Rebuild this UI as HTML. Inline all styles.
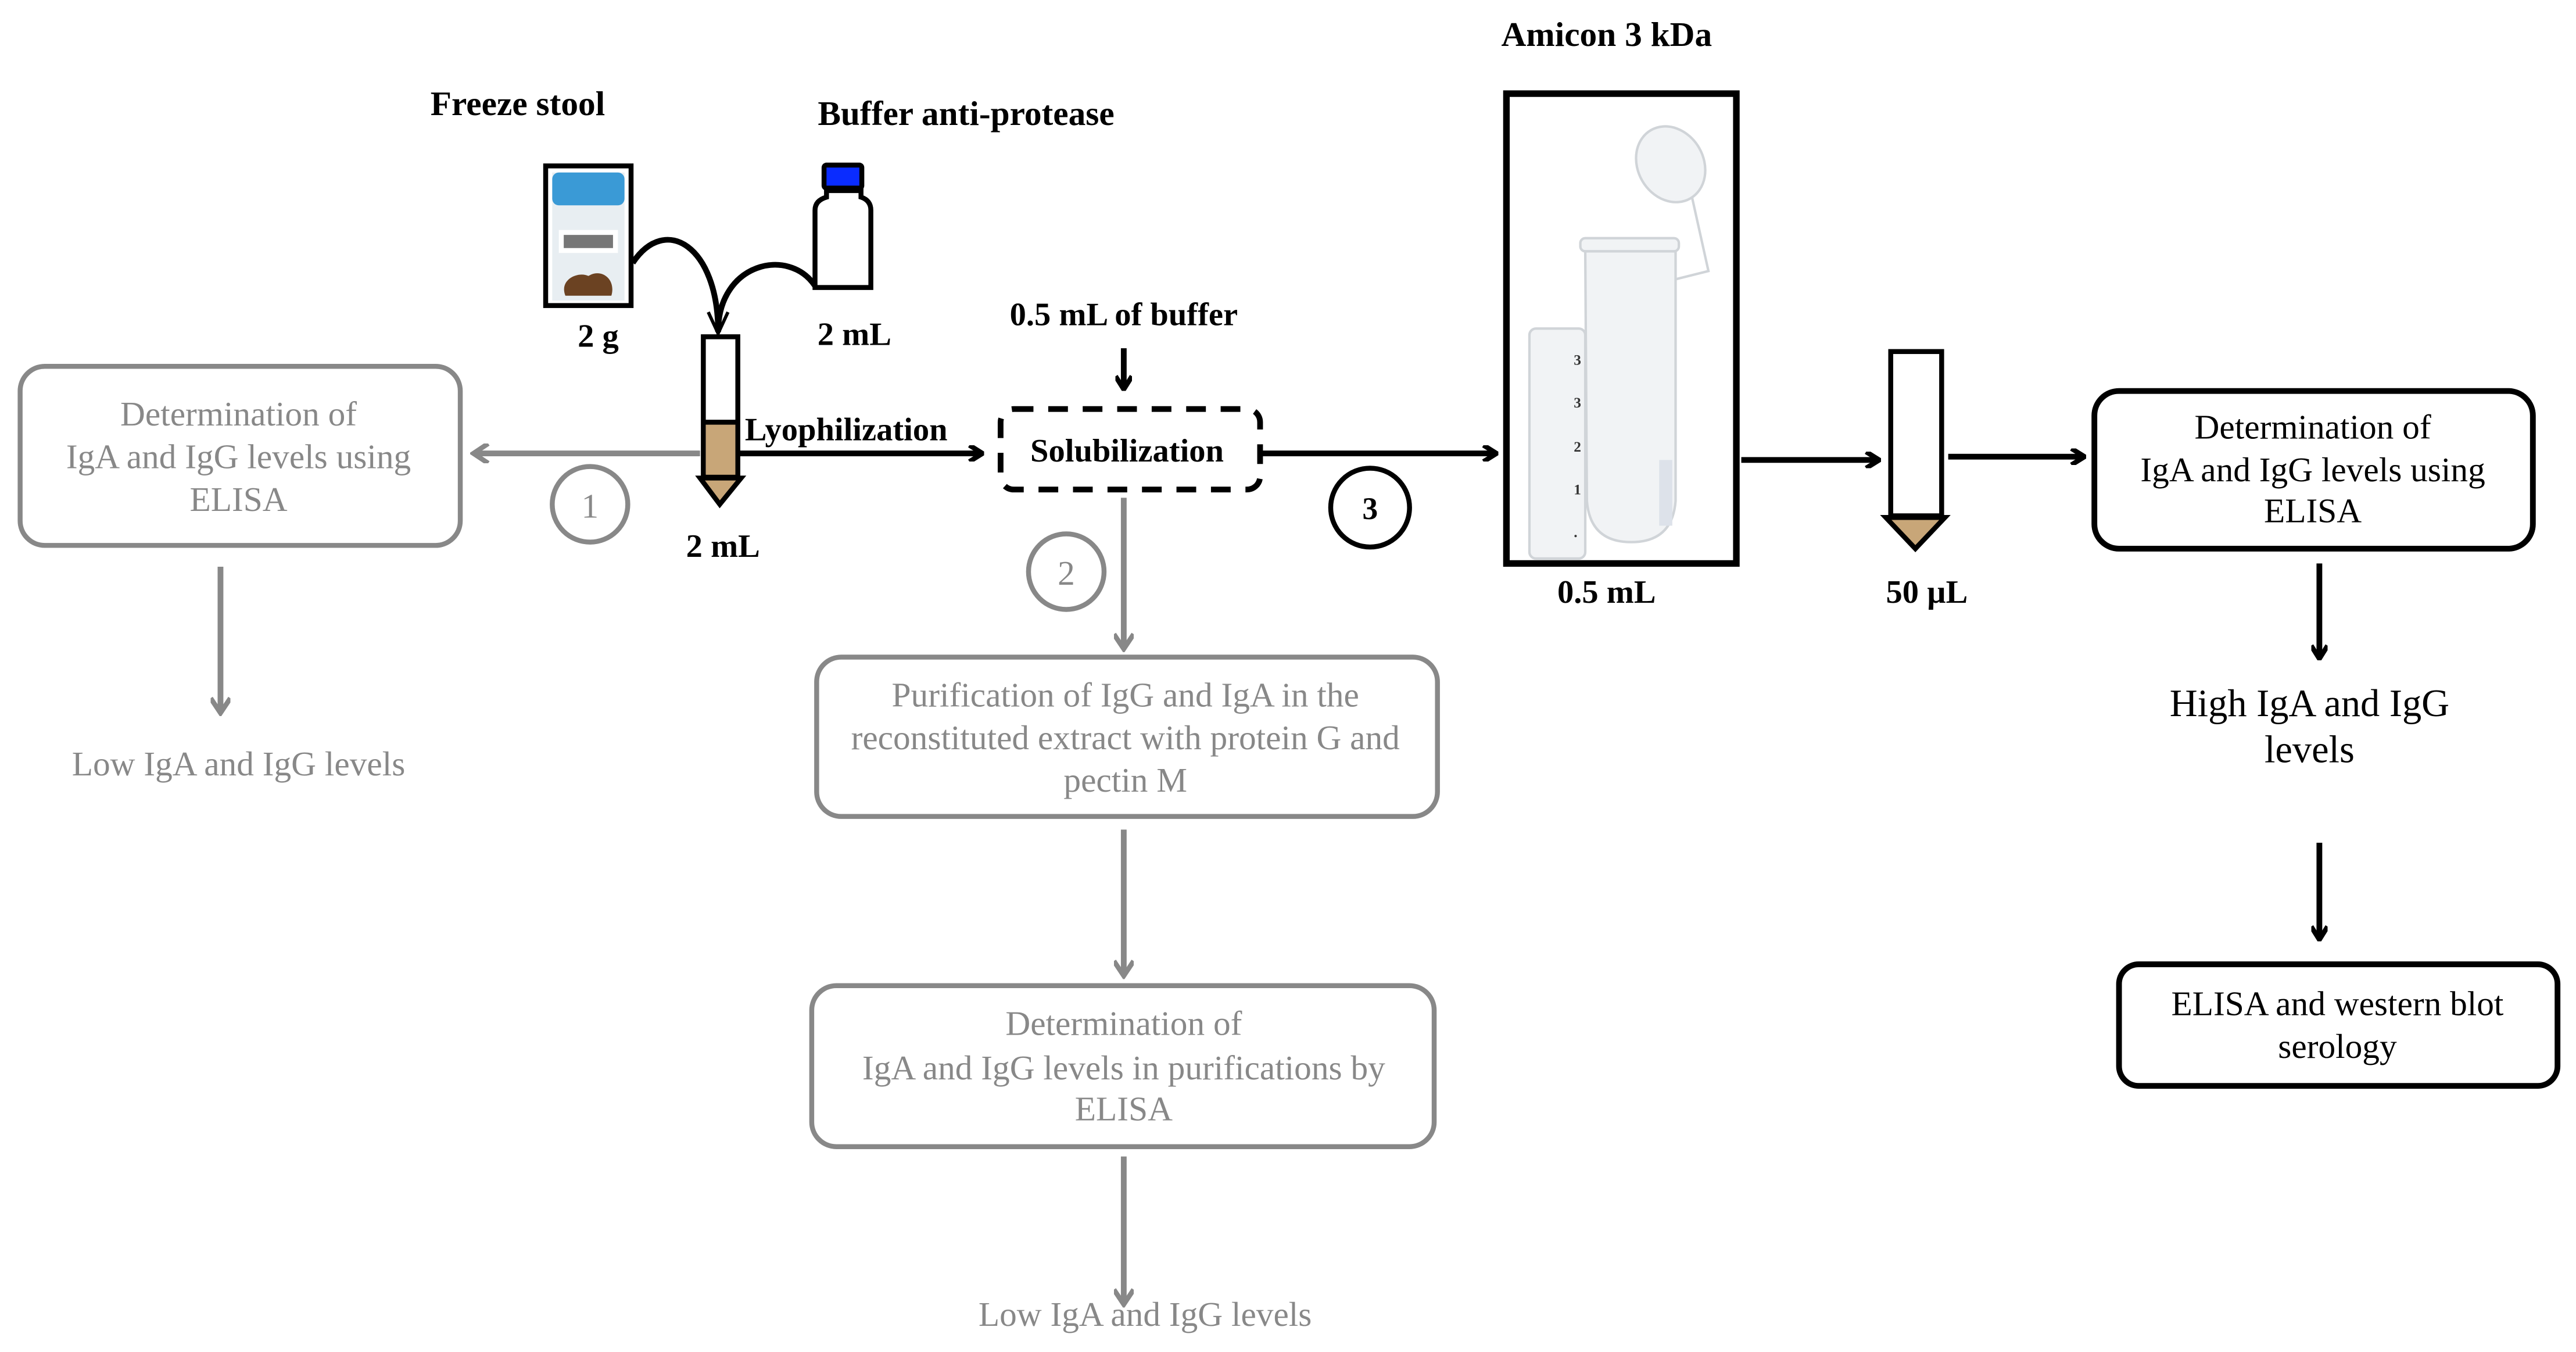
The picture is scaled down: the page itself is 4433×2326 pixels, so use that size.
<!DOCTYPE html>
<html><head><meta charset="utf-8"><style>
html,body{margin:0;padding:0;background:#fff;}
svg{display:block;}
text{font-family:"Liberation Serif","Times New Roman",serif;}
</style></head><body>
<svg width="4433" height="2326" viewBox="0 0 1568 823" xmlns="http://www.w3.org/2000/svg">
<defs>
<marker id="ab" markerWidth="10" markerHeight="10" refX="8" refY="5" orient="auto" markerUnits="userSpaceOnUse"><path d="M1,0 L9,5 L1,10" fill="none" stroke="#000" stroke-width="3"/></marker>
<marker id="ag" markerWidth="12" markerHeight="12" refX="9" refY="6" orient="auto" markerUnits="userSpaceOnUse"><path d="M1,0 L10,6 L1,12" fill="none" stroke="#888" stroke-width="3"/></marker>
</defs>
<rect width="1568" height="823" fill="#fff"/>

<!-- top labels -->
<g font-weight="bold" font-size="21" fill="#000">
<text x="315" y="70" text-anchor="middle">Freeze stool</text>
<text x="588" y="76" text-anchor="middle">Buffer anti-protease</text>
<text x="978" y="28" text-anchor="middle" font-size="21">Amicon 3 kDa</text>
<text x="364" y="211" text-anchor="middle" font-size="20">2 g</text>
<text x="520" y="210" text-anchor="middle" font-size="20">2 mL</text>
<text x="440" y="339" text-anchor="middle" font-size="20">2 mL</text>
<text x="515" y="268" text-anchor="middle" font-size="20">Lyophilization</text>
<text x="684" y="198" text-anchor="middle" font-size="20">0.5 mL of  buffer</text>
<text x="686" y="281" text-anchor="middle" font-size="20">Solubilization</text>
<text x="978" y="367" text-anchor="middle" font-size="20">0.5 mL</text>
<text x="1173" y="367" text-anchor="middle" font-size="20">50 µL</text>
</g>

<!-- stool jar -->
<rect x="332" y="101" width="52" height="85" fill="#fff" stroke="#000" stroke-width="3"/>
<rect x="336" y="105" width="44" height="78" fill="#e8eef2"/>
<rect x="336" y="105" width="44" height="20" rx="4" fill="#3a9ad6"/>
<rect x="340" y="140" width="36" height="14" fill="#fff"/>
<rect x="343" y="143" width="30" height="8" fill="#777"/>
<path d="M344,180 C340,170 352,165 358,168 C366,163 375,170 372,180 Z" fill="#6b4222"/>
<!-- bottle -->
<path d="M496,175 L496,128 Q496,122 503,120 L503,116 L524,116 L524,120 Q530,122 530,128 L530,175 Z" fill="#fff" stroke="#000" stroke-width="3"/>
<rect x="500" y="99" width="26" height="17" rx="3" fill="#000"/>
<rect x="503" y="102" width="20" height="11" fill="#0a2cff"/>
<!-- curves -->
<path d="M385,160 C405,130 437,150 437,202" fill="none" stroke="#000" stroke-width="3.5"/>
<path d="M496,174 C480,150 437,160 437,202" fill="none" stroke="#000" stroke-width="3.5"/>
<path d="M431,190 L437,203 L443,190" fill="none" stroke="#000" stroke-width="2"/>
<!-- tube -->
<rect x="428" y="205" width="21" height="85" fill="#fff" stroke="#000" stroke-width="3"/>
<rect x="429.5" y="258" width="18" height="31" fill="#c8a678"/>
<line x1="428" y1="257" x2="449" y2="257" stroke="#000" stroke-width="3"/>
<path d="M426,291 L451,291 L438,307 Z" fill="#c8a678" stroke="#000" stroke-width="3"/>

<!-- arrows from tube -->
<line x1="450" y1="276" x2="597" y2="276" stroke="#000" stroke-width="3.5" marker-end="url(#ab)"/>
<line x1="426" y1="276" x2="289" y2="276" stroke="#888" stroke-width="3.5" marker-end="url(#ag)"/>
<circle cx="359" cy="307" r="23" fill="#fff" stroke="#888" stroke-width="3"/>
<text x="359" y="315" text-anchor="middle" font-size="21" fill="#888">1</text>

<!-- left gray box -->
<rect x="12" y="223" width="268" height="109" rx="15" fill="#fff" stroke="#888" stroke-width="3"/>
<g font-size="21" fill="#888" text-anchor="middle">
<text x="145" y="259">Determination of</text>
<text x="145" y="285">IgA and IgG levels using</text>
<text x="145" y="311">ELISA</text>
<text x="145" y="472">Low IgA and IgG levels</text>
</g>
<line x1="134" y1="345" x2="134" y2="433" stroke="#888" stroke-width="3.5" marker-end="url(#ag)"/>

<!-- solubilization -->
<line x1="684" y1="212" x2="684" y2="236" stroke="#000" stroke-width="3.5" marker-end="url(#ab)"/>
<rect x="609" y="249" width="158" height="49" rx="8" fill="none" stroke="#000" stroke-width="3.5" stroke-dasharray="12,9"/>
<path d="M767,276 L910,276" stroke="#000" stroke-width="3.5" marker-end="url(#ab)"/>
<circle cx="834" cy="309" r="24" fill="#fff" stroke="#000" stroke-width="3"/>
<text x="834" y="316" text-anchor="middle" font-size="19" font-weight="bold" font-family="Liberation Sans, sans-serif">3</text>
<line x1="684" y1="303" x2="684" y2="394" stroke="#888" stroke-width="3.5" marker-end="url(#ag)"/>
<circle cx="649" cy="348" r="23" fill="#fff" stroke="#888" stroke-width="3"/>
<text x="649" y="356" text-anchor="middle" font-size="21" fill="#888">2</text>

<!-- middle gray boxes -->
<rect x="497" y="400" width="378" height="97" rx="15" fill="#fff" stroke="#888" stroke-width="3"/>
<g font-size="21" fill="#888" text-anchor="middle">
<text x="685" y="430">Purification of IgG and IgA in the</text>
<text x="685" y="456">reconstituted extract with protein G and</text>
<text x="685" y="482">pectin M</text>
</g>
<line x1="684" y1="505" x2="684" y2="593" stroke="#888" stroke-width="3.5" marker-end="url(#ag)"/>
<rect x="494" y="600" width="379" height="98" rx="15" fill="#fff" stroke="#888" stroke-width="3"/>
<g font-size="21" fill="#888" text-anchor="middle">
<text x="684" y="630">Determination of</text>
<text x="684" y="657">IgA and IgG levels in purifications by</text>
<text x="684" y="682">ELISA</text>
<text x="697" y="807">Low IgA and IgG levels</text>
</g>
<line x1="684" y1="704" x2="684" y2="793" stroke="#888" stroke-width="3.5" marker-end="url(#ag)"/>

<!-- amicon -->
<rect x="917" y="57" width="140" height="286" fill="#fff" stroke="#000" stroke-width="4"/>
<g fill="#f1f3f5" stroke="#d0d4d8" stroke-width="1.5">
<ellipse cx="1017" cy="100" rx="20" ry="24" transform="rotate(-30 1017 100)"/>
<path d="M1030,120 L1040,165 L1020,170" fill="none"/>
<rect x="962" y="145" width="60" height="8" rx="3"/>
<path d="M965,153 L1020,153 L1020,305 Q1018,330 993,330 Q968,330 966,305 Z"/>
<rect x="931" y="200" width="34" height="140" rx="4"/>
</g>
<rect x="1010" y="280" width="8" height="40" fill="#dde2ea"/>
<g font-size="9" fill="#333" font-weight="bold"><text x="958" y="222">3</text><text x="958" y="248">3</text><text x="958" y="275">2</text><text x="958" y="301">1</text><text x="958" y="327">.</text></g>

<line x1="1060" y1="280" x2="1143" y2="280" stroke="#000" stroke-width="3.5" marker-end="url(#ab)"/>
<!-- small tube -->
<rect x="1151" y="214" width="31" height="100" fill="#fff" stroke="#000" stroke-width="3"/>
<path d="M1148,315 L1184,315 L1166,334 Z" fill="#c8a678" stroke="#000" stroke-width="3"/>
<line x1="1186" y1="278" x2="1268" y2="278" stroke="#000" stroke-width="3.5" marker-end="url(#ab)"/>

<!-- right boxes -->
<rect x="1275" y="238" width="267" height="96" rx="15" fill="#fff" stroke="#000" stroke-width="3.5"/>
<rect x="1290" y="587" width="267" height="74" rx="12" fill="#fff" stroke="#000" stroke-width="3.5"/>
<line x1="1412" y1="343" x2="1412" y2="400" stroke="#000" stroke-width="3.5" marker-end="url(#ab)"/>
<line x1="1412" y1="513" x2="1412" y2="571" stroke="#000" stroke-width="3.5" marker-end="url(#ab)"/>
<g font-size="21" fill="#000" text-anchor="middle">
<text x="1408" y="267">Determination of</text>
<text x="1408" y="293">IgA and IgG levels using</text>
<text x="1408" y="318">ELISA</text>
<text x="1406" y="436" font-size="23.5">High IgA and IgG</text>
<text x="1406" y="464" font-size="23.5">levels</text>
<text x="1423" y="618">ELISA  and western blot</text>
<text x="1423" y="644">serology</text>
</g>
</svg>
</body></html>
